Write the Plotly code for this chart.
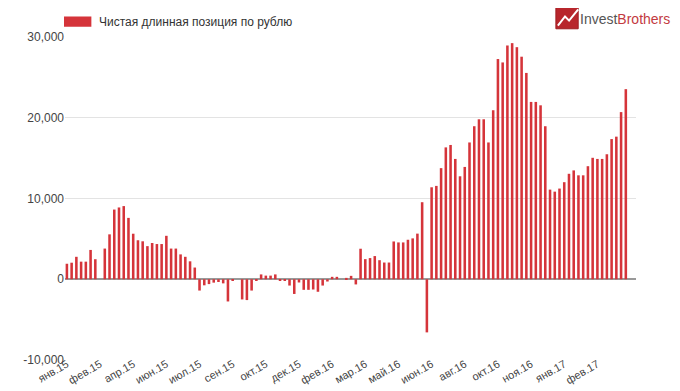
import pandas as pd
import plotly.graph_objects as go

# Weekly dates (CFTC, Tuesdays)
weeks = [d.strftime("%Y-%m-%d") for d in pd.date_range("2015-01-06", periods=119, freq="7D")]

net_long_rub = [
    1920, 2050, 2780, 2180, 2180, 3630, 2480, 0, 3800, 5560,
    8630, 8890, 9060, 7600, 5640, 4830, 4700, 4100, 4490, 4360,
    4360, 5380, 3800, 3800, 3080, 2780, 2220, 1450, -1400, -750,
    -600, -420, -340, -510, -2750, -200, 0, -2500, -2580, -1400,
    -120, 600, 450, 450, 600, -150, -150, -780, -1820, -400,
    -1310, -1310, -1270, -1550, -780, -280, 300, 300, 0, 170,
    420, -640, 3780, 2490, 2620, 2870, 2360, 2070, 2070, 4680,
    4560, 4560, 4890, 5060, 5650, 9540, -6580, 11390, 11560, 13760,
    16330, 16630, 14900, 12750, 13910, 16940, 18950, 19810, 19810, 16940,
    20930, 27270, 26850, 28950, 29240, 28740, 27560, 25550, 21960, 21960,
    21540, 18950, 11100, 10850, 11230, 12020, 13060, 13480, 12870, 12870,
    14000, 15040, 14900, 14900, 15480, 17360, 17660, 20700, 23540,
]

tick_labels = ["янв.15", "фев.15", "апр.15", "июн.15", "июл.15", "сен.15", "окт.15",
               "дек.15", "фев.16", "мар.16", "май.16", "июн.16", "авг.16", "окт.16",
               "ноя.16", "янв.17", "фев.17"]
tick_positions = weeks[::7]

y_ticks = [-10000, 0, 10000, 20000, 30000]
y_tick_text = ["-10,000", "0", "10,000", "20,000", "30,000"]

series_name = "Чистая длинная позиция по рублю"
bar_color = "#d5343a"

fig = go.Figure()
fig.add_trace(go.Bar(
    x=weeks, y=net_long_rub, name=series_name,
    marker=dict(color=bar_color, line=dict(width=0)),
    showlegend=False,
))

# page body has an 8px default margin, so the figure is sized/offset to compensate
fig.update_layout(
    width=672, height=383,
    margin=dict(l=57, r=44, t=29, b=31),
    paper_bgcolor="white", plot_bgcolor="white",
    bargap=0.46,
    font=dict(family="Liberation Sans, Arial, sans-serif", color="#444", size=12),
    xaxis=dict(
        type="category", range=[-0.4, 120.15], automargin=False,
        tickmode="array", tickvals=tick_positions, ticktext=tick_labels,
        tickangle=-30, tickfont=dict(size=11, color="#444"), ticklabelstandoff=-5,
        showgrid=False, showline=False, ticks="", zeroline=False,
    ),
    yaxis=dict(
        range=[-10000, 30000], tickmode="array", tickvals=y_ticks, ticktext=y_tick_text,
        automargin=False,
        gridcolor="#e3e3e3", gridwidth=1, zeroline=True, zerolinecolor="#999999",
        zerolinewidth=2, tickfont=dict(size=12, color="#444"), ticks="", showline=False,
    ),
)

PW, PH = 563, 315  # plot area size in px
def px(x):
    return (x - 65) / PW
def py(y):
    return (352 - y) / PH

# Custom legend (wide colored rectangle + label)
fig.add_shape(type="rect", xref="paper", yref="paper",
              x0=px(64), x1=px(91), y0=py(27), y1=py(17),
              fillcolor=bar_color, line=dict(width=0))
fig.add_annotation(xref="paper", yref="paper", x=px(97), y=py(22),
                   text=series_name, showarrow=False, xanchor="left", yanchor="middle",
                   font=dict(size=12, color="#333"))

# Logo
fig.add_shape(type="rect", xref="paper", yref="paper",
              x0=px(549), x1=px(571), y0=py(29), y1=py(8),
              fillcolor="#b8262c", line=dict(color="#9e1f24", width=1))
fig.add_shape(type="path", xref="paper", yref="paper",
              path="M {:.4f},{:.4f} L {:.4f},{:.4f} L {:.4f},{:.4f} L {:.4f},{:.4f}".format(
                  px(551), py(26), px(558), py(17), px(562), py(21), px(571), py(10)),
              line=dict(color="white", width=2))
fig.add_annotation(xref="paper", yref="paper", x=px(571), y=py(19),
                   text="<span style='color:#555'>Invest</span><span style='color:#c33a3f'>Brothers</span>",
                   showarrow=False, xanchor="left", yanchor="middle",
                   font=dict(size=14, family="Liberation Sans Narrow, Liberation Sans, Arial"))

fig.write_html("out.html")
